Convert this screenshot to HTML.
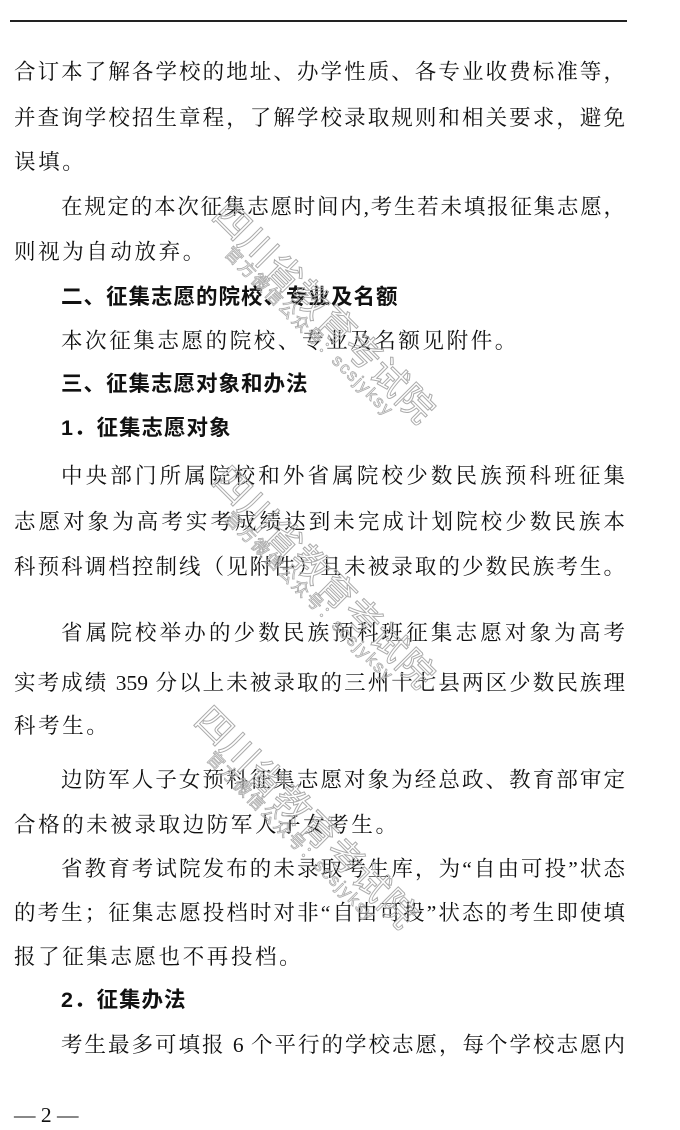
<!DOCTYPE html>
<html><head><meta charset="utf-8"><style>
html,body{margin:0;padding:0;background:#fff;}
body{width:680px;height:1128px;position:relative;overflow:hidden;font-family:"Liberation Serif","Noto Serif CJK SC",serif;color:#111;}
.hr{position:absolute;left:10px;top:20px;width:617px;height:1.5px;background:#222;}
.l{position:absolute;left:14px;width:611px;font-size:21.5px;line-height:30px;height:30px;white-space:nowrap;text-align:justify;text-align-last:justify;}
.s{text-align-last:left;letter-spacing:2.6px;}
.i{padding-left:47px;width:564px;}
.h{font-family:"Liberation Sans","Noto Sans CJK SC",sans-serif;font-weight:bold;letter-spacing:1px;text-align-last:left;}
.wm{position:absolute;transform:rotate(45deg);transform-origin:center;color:transparent;-webkit-text-stroke:1px #aaa;font-family:"Liberation Sans","Noto Sans CJK SC",sans-serif;white-space:nowrap;}
.big{font-size:36px;letter-spacing:1px;}
.sm{font-size:17px;letter-spacing:2px;-webkit-text-stroke:0.8px #aaa;}
</style></head><body>
<div class="hr"></div>
<div class="l" style="top:57px">合订本了解各学校的地址、办学性质、各专业收费标准等，</div>
<div class="l" style="top:103px">并查询学校招生章程，了解学校录取规则和相关要求，避免</div>
<div class="l s" style="top:147px">误填。</div>
<div class="l i" style="top:192px">在规定的本次征集志愿时间内,考生若未填报征集志愿，</div>
<div class="l s" style="top:237px">则视为自动放弃。</div>
<div class="l i h" style="top:282px">二、征集志愿的院校、专业及名额</div>
<div class="l i s" style="top:326px">本次征集志愿的院校、专业及名额见附件。</div>
<div class="l i h" style="top:369px">三、征集志愿对象和办法</div>
<div class="l i h" style="top:413px">1．征集志愿对象</div>
<div class="l i" style="top:461px">中央部门所属院校和外省属院校少数民族预科班征集</div>
<div class="l" style="top:507px">志愿对象为高考实考成绩达到未完成计划院校少数民族本</div>
<div class="l" style="top:552px">科预科调档控制线（见附件）且未被录取的少数民族考生。</div>
<div class="l i" style="top:618px">省属院校举办的少数民族预科班征集志愿对象为高考</div>
<div class="l" style="top:668px">实考成绩 359 分以上未被录取的三州十七县两区少数民族理</div>
<div class="l s" style="top:711px">科考生。</div>
<div class="l i" style="top:765px">边防军人子女预科征集志愿对象为经总政、教育部审定</div>
<div class="l s" style="top:810px">合格的未被录取边防军人子女考生。</div>
<div class="l i" style="top:854px">省教育考试院发布的未录取考生库，为“自由可投”状态</div>
<div class="l" style="top:898px">的考生；征集志愿投档时对非“自由可投”状态的考生即使填</div>
<div class="l s" style="top:942px">报了征集志愿也不再投档。</div>
<div class="l i h" style="top:985px">2．征集办法</div>
<div class="l i" style="top:1030px">考生最多可填报 6 个平行的学校志愿，每个学校志愿内</div>
<div class="l s" style="top:1100px;letter-spacing:0">— 2 —</div>

<div class="wm big" style="left:178px;top:285px">四川省教育考试院</div>
<div class="wm sm" style="left:195px;top:318px">官方微信公众号：scsjyksy</div>
<div class="wm big" style="left:178px;top:550px">四川省教育考试院</div>
<div class="wm sm" style="left:195px;top:583px">官方微信公众号：scsjyksy</div>
<div class="wm big" style="left:160px;top:790px">四川省教育考试院</div>
<div class="wm sm" style="left:177px;top:823px">官方微信公众号：scsjyksy</div>
</body></html>
